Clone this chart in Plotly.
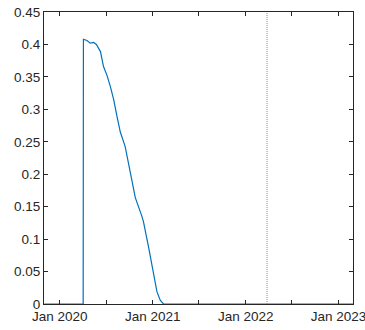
import plotly.graph_objects as go

# data
dates = ["2019-11-01", "2020-04-02", "2020-04-03", "2020-04-17", "2020-04-30",
         "2020-05-13", "2020-05-24", "2020-06-09", "2020-06-21", "2020-07-05",
         "2020-07-18", "2020-07-31", "2020-08-13", "2020-08-26", "2020-09-14",
         "2020-09-27", "2020-10-11", "2020-10-24", "2020-11-19", "2020-11-25",
         "2020-12-15", "2021-01-03", "2021-01-17", "2021-01-30", "2021-02-12",
         "2023-02-28"]
values = [0, 0, 0.408, 0.406, 0.402,
          0.403, 0.400, 0.389, 0.366, 0.352,
          0.335, 0.315, 0.289, 0.265, 0.243,
          0.217, 0.191, 0.164, 0.135, 0.127,
          0.088, 0.047, 0.019, 0.006, 0.0,
          0.0]
marker_date = "2022-03-26"
tick_dates = ["2020-01-01", "2020-07-01", "2021-01-01", "2021-07-01",
              "2022-01-01", "2022-07-01", "2023-01-01"]
tick_labels = ["Jan 2020", "", "Jan 2021", "", "Jan 2022", "", "Jan 2023"]
y_ticks = [0, 0.05, 0.1, 0.15, 0.2, 0.25, 0.3, 0.35, 0.4, 0.45]
y_labels = ["0", "0.05", "0.1", "0.15", "0.2", "0.25", "0.3", "0.35", "0.4", "0.45"]

fig = go.Figure()
fig.add_trace(go.Scatter(x=dates, y=values, mode="lines",
                         line=dict(color="#0072BD", width=1.2), showlegend=False))
fig.add_shape(type="line", xref="x", yref="paper", x0=marker_date, x1=marker_date,
              y0=0, y1=1, line=dict(color="#8c8c8c", width=1, dash="1px,1px"))

axis_common = dict(showline=True, linecolor="#262626", linewidth=1, mirror="ticks",
                   ticks="inside", ticklen=4, tickcolor="#262626", showgrid=False,
                   zeroline=False, automargin=False, ticklabeloverflow="allow",
                   tickfont=dict(family="Liberation Sans, Arial", size=13.5, color="#262626"))
fig.update_xaxes(range=["2019-10-31", "2023-02-27"], tickvals=tick_dates,
                 ticktext=tick_labels, **axis_common)
fig.update_yaxes(range=[0, 0.45], tickvals=y_ticks, ticktext=y_labels, **axis_common)
fig.update_layout(width=365, height=330, margin=dict(l=44, r=12, t=12, b=26),
                  plot_bgcolor="white", paper_bgcolor="white")
fig.write_html("out.html", config={"displayModeBar": False},
               post_script="document.body.style.margin='0';document.body.style.overflow='hidden';")
